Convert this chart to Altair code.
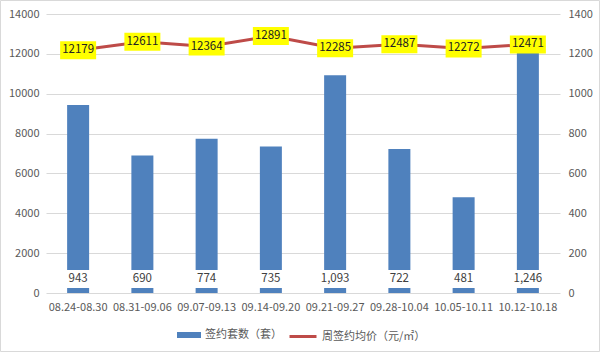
import altair as alt
import pandas as pd

weeks = ["08.24-08.30", "08.31-09.06", "09.07-09.13", "09.14-09.20",
         "09.21-09.27", "09.28-10.04", "10.05-10.11", "10.12-10.18"]
counts = [943, 690, 774, 735, 1093, 722, 481, 1246]
prices = [12179, 12611, 12364, 12891, 12285, 12487, 12272, 12471]
count_name = "签约套数（套）"
price_name = "周签约均价（元/㎡）"
count_ticks = [0, 200, 400, 600, 800, 1000, 1200, 1400]
price_ticks = [0, 2000, 4000, 6000, 8000, 10000, 12000, 14000]

df = pd.DataFrame({"week": weeks, "count": counts, "price": prices,
                   "s1": count_name, "s2": price_name})

FONT = "Noto Sans CJK SC"
GRAY = "#595959"
BOX = "M-1,-0.5H1V0.5H-1Z"

base = alt.Chart(df)
x = alt.X("week:N", sort=weeks,
          scale=alt.Scale(paddingInner=0, paddingOuter=0),
          axis=alt.Axis(title=None, labelAngle=0, ticks=False, domain=False,
                        labelPadding=8, labelFontSize=11, labelColor=GRAY,
                        labelFont=FONT, labelOverlap=False))

cnt_scale = alt.Scale(domain=[0, 1400], nice=False)
prc_scale = alt.Scale(domain=[0, 14000], nice=False)

cnt_axis = alt.Axis(orient="right", title=None, values=count_ticks, format="d",
                    labelOverlap=False, labelBound=False, grid=False, ticks=False,
                    domain=False, labelPadding=8, labelFontSize=11,
                    labelColor=GRAY, labelFont=FONT)
prc_axis = alt.Axis(orient="left", title=None, values=price_ticks, format="d",
                    labelOverlap=False, labelBound=False, grid=True,
                    gridColor="#d9d9d9", gridWidth=1, ticks=False, domain=False,
                    labelPadding=7, labelFontSize=11, labelColor=GRAY,
                    labelFont=FONT)

bars = base.mark_bar(size=22).encode(
    x=x,
    y=alt.Y("count:Q", scale=cnt_scale, axis=cnt_axis),
    color=alt.Color("s1:N", scale=alt.Scale(domain=[count_name], range=["#4F81BD"]),
                    legend=alt.Legend(orient="none", legendX=131, legendY=309, title=None,
                                      symbolType="M-1,-0.25H1V0.25H-1Z", symbolSize=576,
                                      symbolStrokeWidth=0, labelFontSize=11,
                                      labelColor=GRAY, labelFont=FONT, padding=0)),
)
wbox = base.mark_point(shape=BOX, size=1296, filled=True, fill="white",
                       strokeWidth=0, opacity=1, yOffset=-14).encode(
    x=x, y=alt.Y(datum=0, type="quantitative", scale=cnt_scale, axis=cnt_axis))
btext = base.mark_text(dy=-14, fontSize=11.5, color="#404040", font=FONT,
                       baseline="middle").encode(
    x=x, y=alt.Y(datum=0, type="quantitative", scale=cnt_scale, axis=cnt_axis),
    text=alt.Text("count:Q", format=",d"))
bar_group = alt.layer(bars, wbox, btext)

line = base.mark_line(strokeWidth=3).encode(
    x=x,
    y=alt.Y("price:Q", scale=prc_scale, axis=prc_axis),
    color=alt.Color("s2:N", scale=alt.Scale(domain=[price_name], range=["#BE4B48"]),
                    legend=alt.Legend(orient="none", legendX=242, legendY=307.5, title=None,
                                      symbolType="stroke", symbolSize=729,
                                      symbolStrokeWidth=3, labelFontSize=11,
                                      labelColor=GRAY, labelFont=FONT, padding=0)),
)
ybox = base.mark_point(shape=BOX, size=1296, filled=True, fill="#FFFF00",
                       strokeWidth=0, opacity=1).encode(
    x=x, y=alt.Y("price:Q", scale=prc_scale, axis=prc_axis))
ltext = base.mark_text(fontSize=11.5, color="#222222", font=FONT,
                       baseline="middle").encode(
    x=x, y=alt.Y("price:Q", scale=prc_scale, axis=prc_axis),
    text=alt.Text("price:Q", format="d"))
line_group = alt.layer(line, ybox, ltext)

border = alt.Chart(pd.DataFrame({"a": [0]})).mark_rect(
    fillOpacity=0, stroke="#d9d9d9", strokeWidth=1).encode(
    x=alt.value(-45.5), x2=alt.value(553.5), y=alt.value(-13.5), y2=alt.value(337.5))

chart = alt.layer(bar_group, line_group, border).resolve_scale(
    y="independent", color="independent"
).properties(
    width=514, height=279,
    padding={"left": 46, "top": 14, "right": 40, "bottom": 60},
    autosize=alt.AutoSizeParams(type="none"),
    background="white",
).configure_view(stroke=None)

chart.save("out.html", embed_options={"renderer": "svg", "actions": False})
